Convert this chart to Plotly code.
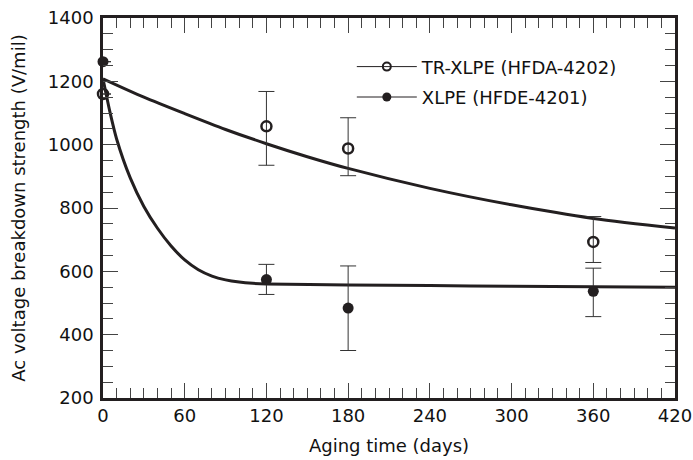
import plotly.graph_objects as go

# ---- data ----
days = [0, 120, 180, 360]

tr_xlpe = [1160, 1058, 988, 693]
tr_xlpe_err_up = [0, 110, 97, 80]
tr_xlpe_err_down = [0, 123, 86, 65]

xlpe = [1262, 574, 484, 537]
xlpe_err_up = [0, 48, 133, 73]
xlpe_err_down = [0, 47, 134, 80]

# fitted trend curves
tr_fit_x = [0, 30, 60, 90, 120, 150, 180, 240, 300, 360, 420]
tr_fit_y = [1208, 1150, 1098, 1048, 1003, 962, 925, 862, 810, 767, 737]

xlpe_fit_x = [0, 5, 10, 20, 30, 40, 50, 60, 70, 80, 90, 100, 110, 120, 180, 240, 300, 360, 420]
xlpe_fit_y = [1208, 1105, 1018, 895, 805, 736, 680, 636, 605, 585, 573, 566, 562, 560, 557, 555, 553, 551, 550]

x_ticks = [0, 60, 120, 180, 240, 300, 360, 420]
y_ticks = [200, 400, 600, 800, 1000, 1200, 1400]

labels = ["TR-XLPE (HFDA-4202)", "XLPE (HFDE-4201)"]

INK = "#231f20"
FONT = "DejaVu Sans"

fig = go.Figure()

fig.add_trace(go.Scatter(x=tr_fit_x, y=tr_fit_y, mode="lines", line=dict(color=INK, width=3, shape="spline", smoothing=0.8),
                         showlegend=False, hoverinfo="skip"))
fig.add_trace(go.Scatter(x=xlpe_fit_x, y=xlpe_fit_y, mode="lines", line=dict(color=INK, width=3, shape="spline", smoothing=0.6),
                         showlegend=False, hoverinfo="skip"))

fig.add_trace(go.Scatter(
    x=days, y=tr_xlpe, mode="markers", name=labels[0], showlegend=False, cliponaxis=False,
    marker=dict(symbol="circle-open", size=10, color=INK, line=dict(width=2.5, color=INK)),
    error_y=dict(type="data", symmetric=False, array=tr_xlpe_err_up, arrayminus=tr_xlpe_err_down,
                 color="#333333", thickness=1, width=8)))
fig.add_trace(go.Scatter(
    x=days, y=xlpe, mode="markers", name=labels[1], showlegend=False, cliponaxis=False,
    marker=dict(symbol="circle", size=11, color=INK),
    error_y=dict(type="data", symmetric=False, array=xlpe_err_up, arrayminus=xlpe_err_down,
                 color="#333333", thickness=1, width=8)))

# legend entries
fig.add_trace(go.Scatter(x=[None], y=[None], mode="lines+markers", name=labels[0], legendgroup="a",
                         line=dict(color=INK, width=1),
                         marker=dict(symbol="circle-open", size=8, color=INK, line=dict(width=2, color=INK))))
fig.add_trace(go.Scatter(x=[None], y=[None], mode="lines+markers", name=labels[1], legendgroup="b",
                         line=dict(color=INK, width=1),
                         marker=dict(symbol="circle", size=9, color=INK)))

axis_common = dict(
    showline=True, linecolor=INK, linewidth=2.5, mirror="allticks",
    ticks="inside", tickcolor="#444444", tickwidth=1, ticklen=15,
    showgrid=False, zeroline=False, automargin=False,
    tickfont=dict(family=FONT, size=18, color="#111111"),
)

fig.update_xaxes(range=[0, 420], tickvals=x_ticks,
                 minor=dict(dtick=10, tick0=0, ticks="inside", ticklen=10, tickcolor="#444444", tickwidth=1),
                 title=dict(text="Aging time (days)", font=dict(family=FONT, size=18, color="#111111"), standoff=15),
                 **axis_common)
fig.update_yaxes(range=[200, 1400], tickvals=y_ticks, ticklabelstandoff=3,
                 minor=dict(dtick=50, tick0=0, ticks="inside", ticklen=10, tickcolor="#444444", tickwidth=1),
                 title=dict(text="Ac voltage breakdown strength (V/mil)", font=dict(family=FONT, size=18, color="#111111"), standoff=18),
                 **axis_common)

fig.update_layout(
    width=693, height=460,
    margin=dict(l=103, r=18, t=18, b=62),
    paper_bgcolor="white", plot_bgcolor="white",
    font=dict(family=FONT, size=18, color="#111111"),
    legend=dict(x=0.435, y=0.92, xanchor="left", yanchor="top", bgcolor="rgba(0,0,0,0)",
                traceorder="grouped", tracegroupgap=4,
                font=dict(family=FONT, size=18, color="#111111"), itemwidth=60),
)

fig.write_html("out.html")
